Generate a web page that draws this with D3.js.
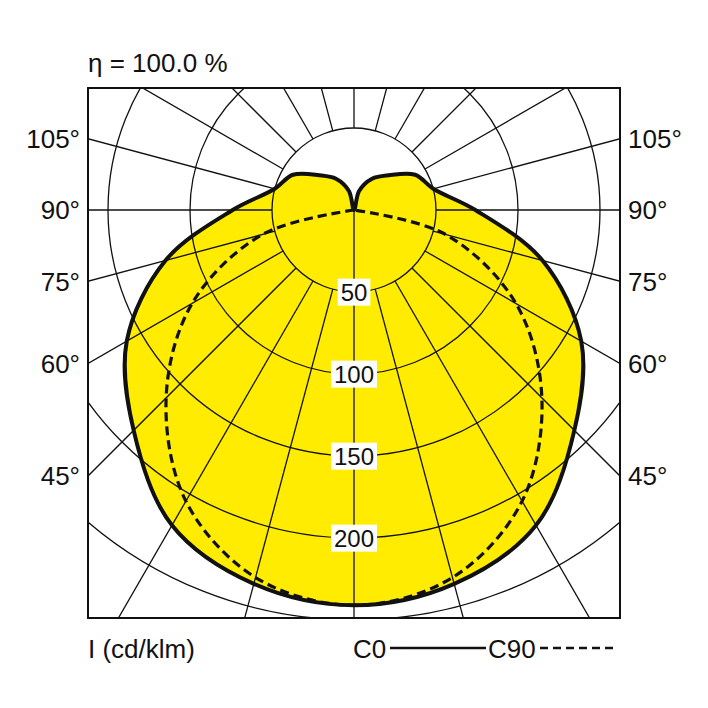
<!DOCTYPE html>
<html>
<head>
<meta charset="UTF-8">
<script src="https://d3js.org/d3.v7.min.js"></script>
<style>
  body { margin: 0; background: #fff; }
  text { font-family: "Liberation Sans Narrow", "Liberation Sans", Arial, sans-serif; fill: #111; }
</style>
</head>
<body>
<div id="chart"></div>
<script>
// angles from nadir (deg) and intensities (cd/klm)
const gammas = [0, 15, 30, 45, 60, 75, 90, 105, 120, 135, 150, 165, 180];
const c0 = [241, 236, 222, 190, 160, 119, 74, 50, 43, 30, 22, 12, 0];
const c90 = [241, 232, 205, 162, 114, 58, 0, 0, 0, 0, 0, 0, 0];
const ringValues = [50, 100, 150, 200, 250, 300];
const ringLabels = [50, 100, 150, 200];
const sideAngles = [45, 60, 75, 90, 105];
const spokes = d3.range(15, 360, 15);

const width = 708, height = 708;
const cx = 354, cy = 210;
const frame = { x0: 88, y0: 88, x1: 620, y1: 618 };

const r = d3.scaleLinear().domain([0, 50]).range([0, 82]);

const svg = d3.select("#chart").append("svg")
  .attr("width", width).attr("height", height);

svg.append("clipPath").attr("id", "clip")
  .append("rect")
  .attr("x", frame.x0).attr("y", frame.y0)
  .attr("width", frame.x1 - frame.x0).attr("height", frame.y1 - frame.y0);

const plot = svg.append("g").attr("clip-path", "url(#clip)");
const g = plot.append("g").attr("transform", `translate(${cx},${cy})`);

// closed loop: left side 180 -> 0, right side back up
function loop(vals) {
  const pts = [];
  for (let i = gammas.length - 1; i >= 0; i--) pts.push([Math.PI + gammas[i] * Math.PI / 180, r(vals[i])]);
  for (let i = 1; i < gammas.length - 1; i++) pts.push([3 * Math.PI - gammas[i] * Math.PI / 180, r(vals[i])]);
  return pts;
}
const radial = d3.lineRadial().curve(d3.curveCatmullRomClosed.alpha(0.5));

g.append("path").attr("d", radial(loop(c0))).attr("fill", "#ffec00");

g.selectAll("circle.ring").data(ringValues).join("circle")
  .attr("class", "ring").attr("r", d => r(d))
  .attr("fill", "none").attr("stroke", "#111").attr("stroke-width", 1.3);

g.selectAll("line.spoke").data(spokes).join("line")
  .attr("class", "spoke")
  .attr("x1", d => r(50) * Math.sin(d * Math.PI / 180))
  .attr("y1", d => r(50) * Math.cos(d * Math.PI / 180))
  .attr("x2", d => r(400) * Math.sin(d * Math.PI / 180))
  .attr("y2", d => r(400) * Math.cos(d * Math.PI / 180))
  .attr("stroke", "#111").attr("stroke-width", 1.3);
g.append("line").attr("x1", 0).attr("y1", 0).attr("x2", 0).attr("y2", r(400))
  .attr("stroke", "#111").attr("stroke-width", 1.3);

g.append("path").attr("d", radial(loop(c90)))
  .attr("fill", "none").attr("stroke", "#111").attr("stroke-width", 3.2)
  .attr("stroke-dasharray", "9,5");
g.append("path").attr("d", radial(loop(c0)))
  .attr("fill", "none").attr("stroke", "#111").attr("stroke-width", 4);

ringLabels.forEach(v => {
  const lg = g.append("g").attr("transform", `translate(0,${r(v)})`);
  const t = lg.append("text").attr("text-anchor", "middle").attr("dy", "0.36em")
    .attr("font-size", 24).text(v);
  const bb = t.node().getBBox();
  lg.insert("rect", "text").attr("x", bb.x - 3).attr("y", bb.y).attr("width", bb.width + 6)
    .attr("height", bb.height).attr("fill", "#fff");
});

svg.append("rect").attr("x", frame.x0).attr("y", frame.y0)
  .attr("width", frame.x1 - frame.x0).attr("height", frame.y1 - frame.y0)
  .attr("fill", "none").attr("stroke", "#111").attr("stroke-width", 2);

sideAngles.forEach(a => {
  const y = cy + (cx - frame.x0) / Math.tan(a * Math.PI / 180);
  svg.append("text").attr("x", 80).attr("y", y).attr("dy", "0.36em")
    .attr("text-anchor", "end").attr("font-size", 26).text(a + "°");
  svg.append("text").attr("x", 628).attr("y", y).attr("dy", "0.36em")
    .attr("text-anchor", "start").attr("font-size", 26).text(a + "°");
});

svg.append("text").attr("x", 88).attr("y", 72).attr("font-size", 26).text("η = 100.0 %");
svg.append("text").attr("x", 88).attr("y", 658).attr("font-size", 26).text("I (cd/klm)");
svg.append("text").attr("x", 353).attr("y", 658).attr("font-size", 26).text("C0");
svg.append("line").attr("x1", 390).attr("x2", 486).attr("y1", 648).attr("y2", 648)
  .attr("stroke", "#111").attr("stroke-width", 2.5);
svg.append("text").attr("x", 488).attr("y", 658).attr("font-size", 26).text("C90");
svg.append("line").attr("x1", 540).attr("x2", 616).attr("y1", 648).attr("y2", 648)
  .attr("stroke", "#111").attr("stroke-width", 2.5).attr("stroke-dasharray", "8,5");
</script>
</body>
</html>
